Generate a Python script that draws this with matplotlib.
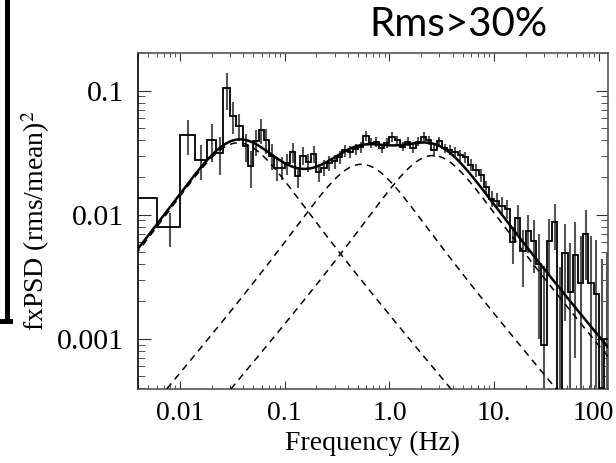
import numpy as np
import matplotlib
matplotlib.use('Agg')
import matplotlib.pyplot as plt
from matplotlib.lines import Line2D
from matplotlib.transforms import ScaledTranslation
from matplotlib.ticker import FixedLocator, FixedFormatter, LogLocator, NullFormatter

plt.rcParams['font.family'] = ['Liberation Serif', 'DejaVu Serif']
plt.rcParams['mathtext.fontset'] = 'stix'

# bin edges (Hz) of the averaged power spectrum
edges = [0.002, 0.006, 0.010, 0.014, 0.018, 0.022, 0.026, 0.030, 0.034,
         0.0398, 0.0447, 0.0501, 0.0562, 0.0631, 0.0708, 0.0794, 0.0891,
         0.100, 0.112, 0.126, 0.141, 0.158, 0.178, 0.200, 0.224, 0.251,
         0.282, 0.316, 0.355, 0.398, 0.447, 0.501, 0.562, 0.631, 0.708,
         0.794, 0.891, 1.00, 1.12, 1.26, 1.41, 1.58, 1.78, 2.00, 2.24,
         2.51, 2.82, 3.16, 3.55, 3.98, 4.47, 5.01, 5.62, 6.31, 7.08, 7.94,
         8.91, 10.0, 11.2, 12.6, 14.1, 15.8, 17.8, 20.0, 22.4, 25.1, 28.2,
         31.6, 35.5, 39.8, 44.7, 50.1, 56.2, 63.1, 70.8, 79.4, 89.1, 100.,
         112., 126.]

# f x PSD in (rms/mean)^2
fpsd = [0.0137, 0.0079, 0.0441, 0.0278, 0.0403, 0.0316, 0.105, 0.063, 0.052,
        0.0355, 0.0245, 0.039, 0.048, 0.040, 0.030, 0.0238, 0.024, 0.026,
        0.032, 0.0204, 0.030, 0.0265, 0.031, 0.022, 0.024, 0.026, 0.027,
        0.029, 0.033, 0.032, 0.034, 0.035, 0.043, 0.038, 0.0388, 0.0343,
        0.038, 0.0425, 0.040, 0.0354, 0.0388, 0.0343, 0.0388, 0.0425, 0.040,
        0.0333, 0.039, 0.0343, 0.0333, 0.0322, 0.0303, 0.0293, 0.0252,
        0.0229, 0.0209, 0.0166, 0.0135, 0.0130, 0.0118, 0.0112, 0.0060,
        0.0095, 0.0051, 0.0074, 0.0062, 0.0040, 0.0009, 0.0062, 0.0087,
        0.0003, 0.0049, 0.0024, 0.0047, 0.0028, 0.0070, 0.0028, 0.0023,
        0.0004, 0.0010]

err = [0.0, 0.0024, 0.014, 0.0088, 0.0135, 0.0107, 0.035, 0.018, 0.013,
       0.009, 0.008, 0.009, 0.011, 0.009, 0.007, 0.005, 0.005, 0.005,
       0.006, 0.004, 0.005, 0.0045, 0.005, 0.0035, 0.0035, 0.0035, 0.0035,
       0.0035, 0.0038, 0.0035, 0.0035, 0.0035, 0.004, 0.0035, 0.0035, 0.003,
       0.0033, 0.0036, 0.0034, 0.003, 0.0033, 0.003, 0.0033, 0.0036, 0.0034,
       0.004, 0.0033, 0.003, 0.003, 0.003, 0.003, 0.003, 0.0028,
       0.0026, 0.0025, 0.0022, 0.002, 0.002, 0.002, 0.002, 0.002,
       0.0025, 0.0025, 0.0025, 0.0028, 0.003, 0.003, 0.003, 0.0035,
       0.0035, 0.0035, 0.0035, 0.004, 0.004, 0.004, 0.004, 0.004,
       0.004, 0.004]

# fitted Lorentzian components: peak frequency, peak f x P, quality factor
nu_max = [0.036, 0.54, 2.6]
peak = [0.038, 0.0255, 0.030]
qual = [0.25, 0.25, 0.25]


def lorentz_fp(f, numax, pk, q):
    f0 = numax / np.sqrt(1 + 1 / (4 * q * q))
    d = f0 / (2 * q)
    shape = f * d / (d ** 2 + (f - f0) ** 2)
    norm = numax * d / (d ** 2 + (numax - f0) ** 2)
    return pk * shape / norm


fig = plt.figure(figsize=(6.16, 4.63), dpi=100)
ax = fig.add_axes([0.224, 0.16, 0.763, 0.7255])

edges_a = np.array(edges)
vals = np.array(fpsd)
errs = np.array(err)
centers = 0.5 * (edges_a[:-1] + edges_a[1:])
lo = np.maximum(vals - errs, 1e-5)
hi = vals + errs

ax.vlines(centers, lo, hi, color='#555555', lw=1.5, zorder=2)
ax.stairs(vals, edges_a, baseline=None, color='black', lw=1.3, zorder=3)

ff = np.logspace(-2.5, 2.2, 600)
total = np.zeros_like(ff)
for nm, pk, q in zip(nu_max, peak, qual):
    comp = lorentz_fp(ff, nm, pk, q)
    total += comp
    ax.plot(ff, comp, color='black', lw=1.1, dashes=(4.5, 3.5), zorder=4)
ax.plot(ff, total, color='black', lw=1.8, zorder=5)

ax.set_xscale('log')
ax.set_yscale('log')
ax.set_xlim(0.00397, 122)
ax.set_ylim(0.000395, 0.201)

ax.xaxis.set_major_locator(FixedLocator([0.01, 0.1, 1.0, 10.0, 100.0]))
ax.xaxis.set_major_formatter(FixedFormatter(['0.01', '0.1', '1.0', '10.', '100']))
ax.xaxis.set_minor_locator(LogLocator(base=10, subs=np.arange(2, 10), numticks=20))
ax.xaxis.set_minor_formatter(NullFormatter())
ax.yaxis.set_major_locator(FixedLocator([0.001, 0.01, 0.1]))
ax.yaxis.set_major_formatter(FixedFormatter(['0.001', '0.01', '0.1']))
ax.yaxis.set_minor_locator(LogLocator(base=10, subs=np.arange(2, 10), numticks=20))
ax.yaxis.set_minor_formatter(NullFormatter())

ax.tick_params(axis='both', which='both', direction='in', top=True, right=True,
               colors='#333333', labelcolor='black')
ax.tick_params(axis='x', which='major', length=6, pad=9, labelsize=20)
ax.tick_params(axis='x', which='minor', length=3)
ax.tick_params(axis='y', which='major', length=9, pad=10, labelsize=21.5)
ax.tick_params(axis='y', which='minor', length=5)
for side in ['top', 'right', 'bottom']:
    ax.spines[side].set_color('#555555')
ax.spines['left'].set_color('black')
for sp in ax.spines.values():
    sp.set_linewidth(1.2)

ax.set_xlabel('Frequency (Hz)', fontsize=20)
ax.set_ylabel('fxPSD (rms/mean)$^2$', fontsize=20)
ax.xaxis.set_label_coords(0.5, -0.125)
ax.yaxis.set_label_coords(-0.183, 0.5)

fig.text(0.745, 0.948, 'Rms>30%', family='Lato', fontsize=29, ha='center', va='center')

# edge of the neighbouring panel
fig.add_artist(Line2D([0.0121, 0.0121], [1.0, 0.306], color='black', lw=3.6))
fig.add_artist(Line2D([0.0, 0.0155], [0.306, 0.306], color='black', lw=3.6))

# nudge the "100" label so it stays inside the figure
fig.canvas.draw()
last = ax.xaxis.get_major_ticks()[-1].label1
last.set_transform(last.get_transform() + ScaledTranslation(-0.055, 0, fig.dpi_scale_trans))

fig.savefig('out.png', dpi=100)
